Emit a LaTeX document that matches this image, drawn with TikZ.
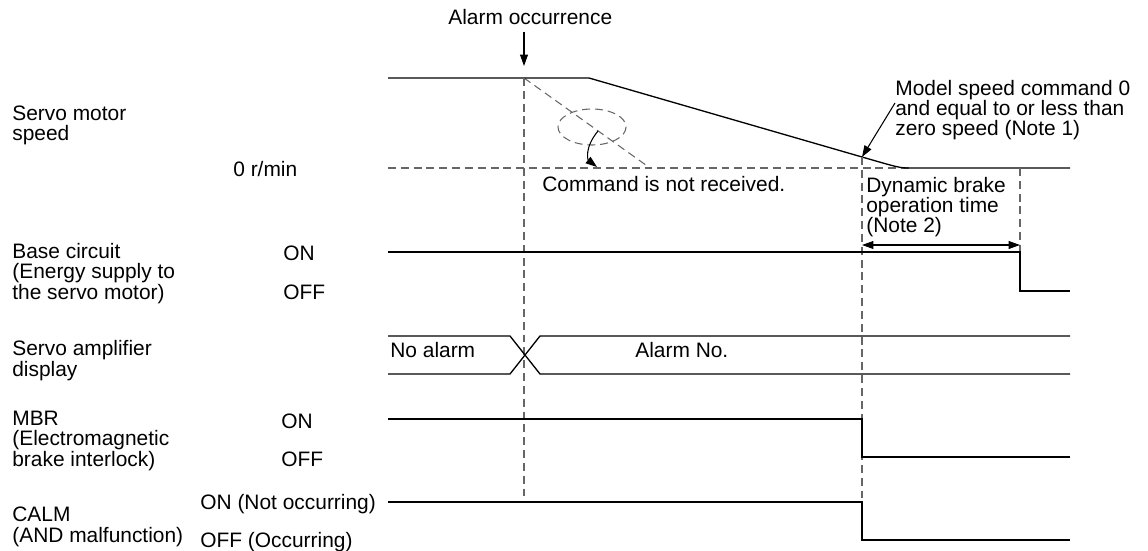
\documentclass[tikz,border=0pt]{standalone}
\usepackage{fontspec}
\setmainfont{Liberation Sans}
\usetikzlibrary{arrows.meta}

\begin{document}
\begin{tikzpicture}[
  x=0.2mm, y=-0.2mm,
  lbl/.style={anchor=base west, inner sep=0pt, align=left,
    font=\fontsize{11.9}{11.6}\selectfont},
  sig/.style={draw, line width=0.75pt},
  guide/.style={draw, black!60, line width=0.6pt, dash pattern=on 4.5pt off 2.8pt},
  tip/.style={-{Triangle[length=6.5pt, width=4.5pt]}, line width=0.6pt},
]
\useasboundingbox (0,0) rectangle (1148,551);

% signal names (multi-line: anchored on last line)
\node[lbl] (spd) at (12,141) {Servo motor\\speed};
\node[lbl] (zero) at (233,177) {0 r/min};
\node[lbl] (base) at (12,299) {Base circuit\\(Energy supply to\\the servo motor)};
\node[lbl] (baseon) at (283,261) {ON};
\node[lbl] (baseoff) at (283,299) {OFF};
\node[lbl] (disp) at (12,376) {Servo amplifier\\display};
\node[lbl] (mbr) at (12,466) {MBR\\(Electromagnetic\\brake interlock)};
\node[lbl] (mbron) at (281,428) {ON};
\node[lbl] (mbroff) at (281,466) {OFF};
\node[lbl] (calm) at (12,542) {CALM\\(AND malfunction)};
\node[lbl] (calmon) at (200,509) {ON (Not occurring)};
\node[lbl] (calmoff) at (200,547) {OFF (Occurring)};

% key instants
\coordinate (almtop) at (524,32);
\coordinate (almhit) at (524,66);
\coordinate (alm) at (524,78);
\coordinate (decel) at (589,78);
\coordinate (zsp) at (862,157);
\coordinate (stop) at (910,168);
\coordinate (dbend) at (1020,168);

% speed
\draw[guide] (388,168) -- (stop);
\draw[guide] (alm) -- (650,168);
\draw[guide] (592,127) ellipse [x radius=34, y radius=18];
\draw[sig] (388,78) -- (alm) -- (decel) -- (zsp)
  .. controls (900,168) .. (stop) -- (1070,168);

% time markers
\draw[guide] (alm) -- (524,502);
\draw[guide] (zsp) -- (862,502);
\draw[guide] (dbend) -- (1020,252);

% base circuit / display / MBR / CALM
\draw[sig] (388,252) -- (1020,252) -- (1020,291) -- (1070,291);
\draw[sig] (388,336) -- (510,336) -- (540,374) -- (1070,374);
\draw[sig] (388,374) -- (510,374) -- (540,336) -- (1070,336);
\draw[sig] (388,419) -- (862,419) -- (862,457) -- (1070,457);
\draw[sig] (388,502) -- (862,502) -- (862,540) -- (1070,540);

% annotations
\node[lbl] (almtxt) at (448,25) {Alarm occurrence};
\draw[tip] (almtop) -- (almhit);
\node[lbl] (norcv) at (542,192) {Command is not received.};
\draw[tip] (598,131) .. controls (584,148) and (588,160) .. (597,167);
\node[lbl] (note1) at (895,136) {Model speed command 0\\and equal to or less than\\zero speed (Note 1)};
\draw[tip] (895,103) -- (zsp);
\node[lbl] (note2) at (866,233) {Dynamic brake\\operation time\\(Note 2)};
\draw[{Triangle[length=6.5pt, width=4.5pt]}-{Triangle[length=6.5pt, width=4.5pt]}, line width=0.6pt]
  (862,245) -- (1020,245);
\node[lbl] (noalm) at (390,357) {No alarm};
\node[lbl] (almno) at (635,357) {Alarm No.};
\end{tikzpicture}
\end{document}
